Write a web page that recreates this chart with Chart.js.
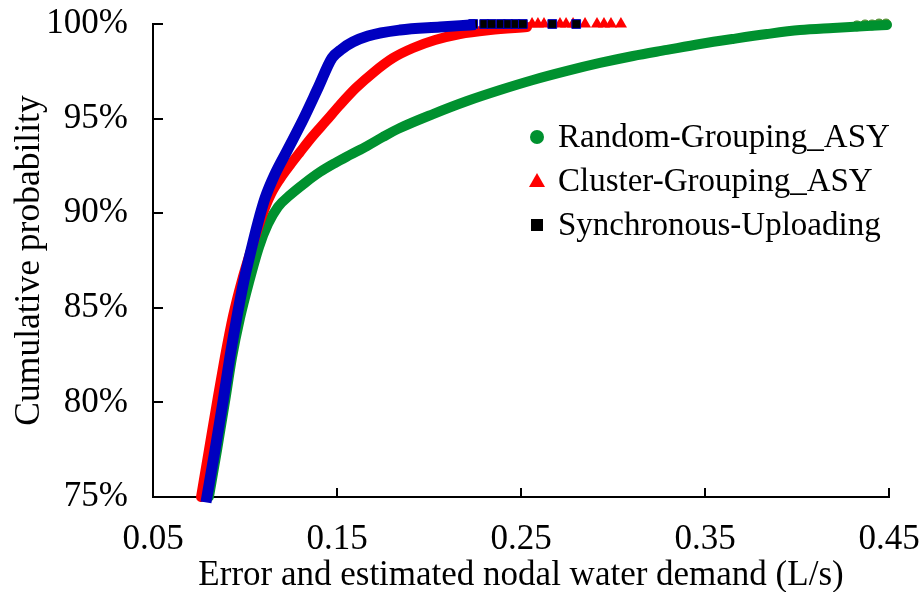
<!DOCTYPE html>
<html>
<head>
<meta charset="utf-8">
<script src="https://cdn.jsdelivr.net/npm/chart.js@4/dist/chart.umd.min.js"></script>
<style>
  body { margin: 0; background: #fff; }
  canvas { display: block; }
</style>
</head>
<body>
<canvas id="grafik" width="922" height="592"></canvas>
<script>
// Values (x in L/s, y in %)
const randomX = [0.0804, 0.0848, 0.0891, 0.0929, 0.0973, 0.1022, 0.1076, 0.1125, 0.1179, 0.1245, 0.1326, 0.1408, 0.1489, 0.1571, 0.1663, 0.1750, 0.1842, 0.2022, 0.2207, 0.2386, 0.2565, 0.2750, 0.2929, 0.3109, 0.3293, 0.3473, 0.3652, 0.3837, 0.4016, 0.4196, 0.4380, 0.4489];
const randomY = [75.0, 77.48, 80.02, 82.35, 84.46, 86.36, 88.21, 89.43, 90.33, 90.96, 91.60, 92.18, 92.65, 93.08, 93.55, 94.03, 94.50, 95.24, 95.93, 96.51, 97.04, 97.52, 97.94, 98.31, 98.63, 98.94, 99.21, 99.47, 99.68, 99.79, 99.89, 99.95];
const randomTailX = [0.4326, 0.4370, 0.4408, 0.4446, 0.4484];
const randomTailY = [99.9, 99.95, 99.95, 100, 100];

const clusterX = [0.0761, 0.0804, 0.0848, 0.0891, 0.0935, 0.0984, 0.1038, 0.1092, 0.1141, 0.1190, 0.1245, 0.1299, 0.1364, 0.1440, 0.1516, 0.1603, 0.1701, 0.1804, 0.1913, 0.2033, 0.2168, 0.2332, 0.2533];
const clusterY = [75.0, 77.48, 80.02, 82.40, 84.57, 86.47, 88.21, 89.85, 91.01, 91.81, 92.55, 93.23, 94.03, 94.87, 95.72, 96.62, 97.46, 98.20, 98.73, 99.15, 99.47, 99.68, 99.84];
const clusterTailX = [0.2560, 0.2592, 0.2625, 0.2712, 0.2745, 0.2783, 0.2848, 0.2913, 0.2951, 0.2989, 0.3043];
const clusterTailY = [100, 100, 100, 100, 100, 100, 100, 100, 100, 100, 100];

const syncX = [0.0793, 0.0837, 0.0880, 0.0918, 0.0957, 0.0995, 0.1033, 0.1071, 0.1109, 0.1163, 0.1228, 0.1315, 0.1397, 0.1473, 0.1527, 0.1587, 0.1668, 0.1842, 0.2060, 0.2223];
const syncY = [75.0, 77.48, 80.02, 82.40, 84.57, 86.47, 88.05, 89.53, 90.80, 92.07, 93.29, 94.93, 96.62, 98.20, 98.68, 99.05, 99.37, 99.68, 99.84, 99.95];
const syncTailX = [0.2240, 0.2300, 0.2340, 0.2390, 0.2430, 0.2470, 0.2510, 0.2670, 0.2800];
const syncTailY = [100, 100, 100, 100, 100, 100, 100, 100, 100];

const xTickValues = [0.05, 0.15, 0.25, 0.35, 0.45];
const yTickValues = [75, 80, 85, 90, 95, 100];
const seriesNames = ['Random-Grouping_ASY', 'Cluster-Grouping_ASY', 'Synchronous-Uploading'];

const FONT = "'Liberation Serif', 'Times New Roman', serif";

function toPoints(xs, ys) {
    return xs.map((x, i) => ({ x: x, y: ys[i] }));
}

// ticks pointing into the plot
const inwardTicks = {
    id: 'inwardTicks',
    beforeDatasetsDraw(chart) {
        const ctx = chart.ctx;
        const xs = chart.scales.x, ys = chart.scales.y;
        ctx.save();
        ctx.strokeStyle = '#000';
        ctx.lineWidth = 2;
        ctx.beginPath();
        xTickValues.forEach(v => {
            const px = Math.round(xs.getPixelForValue(v));
            ctx.moveTo(px, ys.bottom);
            ctx.lineTo(px, ys.bottom - 9);
        });
        yTickValues.forEach(v => {
            const py = Math.round(ys.getPixelForValue(v));
            ctx.moveTo(xs.left, py);
            ctx.lineTo(xs.left + 10, py);
        });
        ctx.stroke();
        ctx.restore();
    }
};

// legend inside the plot
const insideLegend = {
    id: 'insideLegend',
    afterDraw(chart, args, opts) {
        const ctx = chart.ctx;
        const items = chart.data.datasets.filter(d => d.legendStyle);
        ctx.save();
        ctx.font = opts.fontSize + 'px ' + FONT;
        ctx.textBaseline = 'middle';
        items.forEach((d, i) => {
            const y = opts.y + i * opts.gap;
            const x = opts.x;
            ctx.fillStyle = d.legendColor;
            ctx.beginPath();
            if (d.legendStyle === 'circle') {
                ctx.arc(x, y, 7, 0, Math.PI * 2);
            } else if (d.legendStyle === 'triangle') {
                ctx.moveTo(x, y - 8);
                ctx.lineTo(x + 8, y + 6);
                ctx.lineTo(x - 8, y + 6);
                ctx.closePath();
            } else {
                ctx.rect(x - 6, y - 6, 12, 12);
            }
            ctx.fill();
            ctx.fillStyle = '#000';
            ctx.fillText(d.label, opts.textX, y + 1);
        });
        ctx.restore();
    }
};

const ctx = document.getElementById('grafik').getContext('2d');
Chart.defaults.font.family = FONT;
Chart.defaults.color = '#000';

new Chart(ctx, {
    type: 'scatter',
    data: {
        datasets: [
            { label: seriesNames[0], data: toPoints(randomX, randomY), showLine: true, order: 2,
              borderColor: '#00912f', borderWidth: 10, borderCapStyle: 'round', pointRadius: 0,
              cubicInterpolationMode: 'monotone', clip: false,
              legendStyle: 'circle', legendColor: '#00912f' },
            { label: seriesNames[1], data: toPoints(clusterX, clusterY), showLine: true, order: 1,
              borderColor: '#ff0000', borderWidth: 10, borderCapStyle: 'round', pointRadius: 0,
              cubicInterpolationMode: 'monotone', clip: false,
              legendStyle: 'triangle', legendColor: '#ff0000' },
            { label: seriesNames[2], data: toPoints(syncX, syncY), showLine: true, order: 0,
              borderColor: '#0000c0', borderWidth: 11, borderCapStyle: 'square', pointRadius: 0,
              cubicInterpolationMode: 'monotone', clip: false,
              legendStyle: 'rect', legendColor: '#000' },
            { label: seriesNames[0] + ' tail', data: toPoints(randomTailX, randomTailY), order: 2,
              pointStyle: 'circle', pointRadius: 5, backgroundColor: '#5f9e3e', borderColor: '#4f8f33',
              borderWidth: 1, clip: false },
            { label: seriesNames[1] + ' tail', data: toPoints(clusterTailX, clusterTailY), order: 1,
              pointStyle: 'triangle', pointRadius: 7, backgroundColor: '#ff0000', borderColor: '#ff0000',
              borderWidth: 0, clip: false },
            { label: seriesNames[2] + ' tail', data: toPoints(syncTailX, syncTailY), order: 0,
              pointStyle: 'rect', pointRadius: 6.2, backgroundColor: '#000', borderColor: '#0000c0',
              borderWidth: 1, clip: false }
        ]
    },
    options: {
        responsive: false,
        animation: false,
        layout: { padding: { top: 24, right: 33, left: 0, bottom: 0 } },
        plugins: {
            legend: { display: false },
            tooltip: { enabled: false },
            insideLegend: { x: 537, textX: 558, y: 137, gap: 44, fontSize: 33 }
        },
        scales: {
            x: {
                type: 'linear', min: 0.05, max: 0.45,
                afterBuildTicks: s => { s.ticks = xTickValues.map(v => ({ value: v })); },
                afterFit: s => { s.height = 95; s.paddingLeft = 0; s.paddingRight = 0; },
                grid: { drawOnChartArea: false, drawTicks: false },
                border: { color: '#000', width: 2 },
                ticks: { font: { size: 35 }, padding: 22, maxRotation: 0, callback: v => v.toFixed(2) },
                title: { display: true, text: 'Error and estimated nodal water demand (L/s)',
                         font: { size: 35, lineHeight: 0.9 }, padding: 0 }
            },
            y: {
                type: 'linear', min: 75, max: 100,
                afterBuildTicks: s => { s.ticks = yTickValues.map(v => ({ value: v })); },
                afterFit: s => { s.width = 153; s.paddingTop = 0; s.paddingBottom = 0; },
                grid: { drawOnChartArea: false, drawTicks: false },
                border: { color: '#000', width: 2 },
                ticks: { font: { size: 35 }, padding: 25, callback: v => v + '%' },
                title: { display: true, text: 'Cumulative probability',
                         font: { size: 35.5, lineHeight: 0.9 }, padding: { top: 14, bottom: 0 } }
            }
        }
    },
    plugins: [inwardTicks, insideLegend]
});
</script>
</body>
</html>
